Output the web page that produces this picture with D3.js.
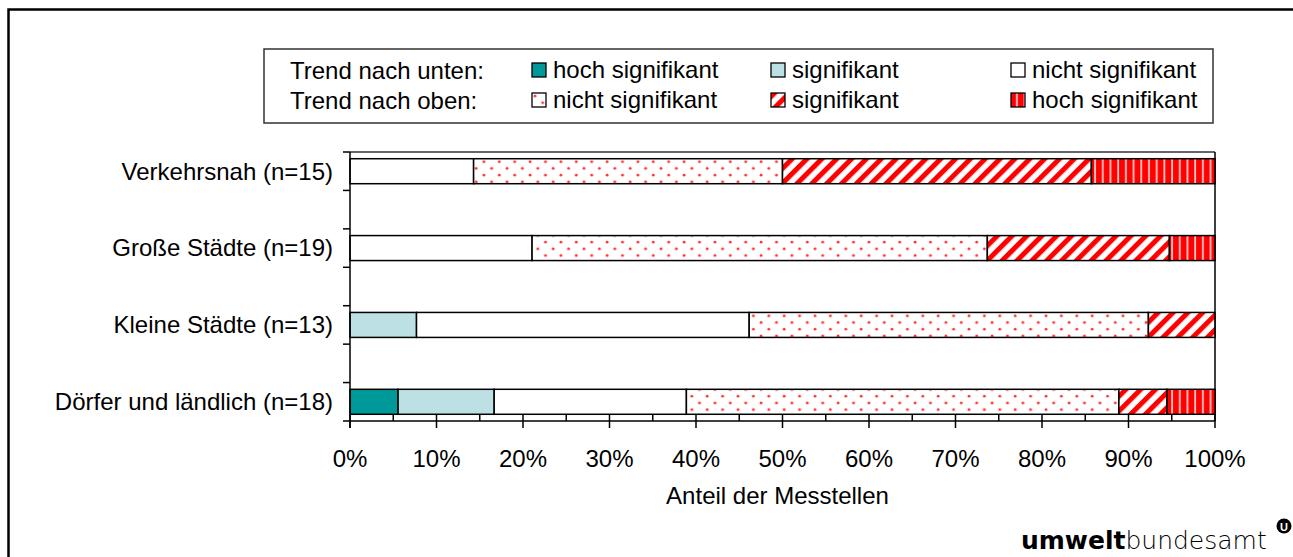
<!DOCTYPE html>
<html>
<head>
<meta charset="utf-8">
<script src="https://cdn.jsdelivr.net/npm/d3@7"></script>
<style>
  body { margin: 0; background: #fff; overflow: hidden; }
  svg { display: block; overflow: hidden; }
  svg text { font-family: "Liberation Sans", Arial, sans-serif; fill: #000; }
</style>
</head>
<body>
<svg id="chart" width="1293" height="557"></svg>
<script>
// categories, top to bottom
var categories = ["Verkehrsnah (n=15)", "Große Städte (n=19)", "Kleine Städte (n=13)", "Dörfer und ländlich (n=18)"];

// share of stations per trend class (%)
var downHigh   = [0, 0, 0, 5.56];
var downSig    = [0, 0, 7.69, 11.11];
var downNot    = [14.29, 21.05, 38.46, 22.22];
var upNot      = [35.71, 52.63, 46.15, 50];
var upSig      = [35.71, 21.05, 7.69, 5.56];
var upHigh     = [14.29, 5.26, 0, 5.56];

var seriesNames = ["down-high", "down-sig", "down-not", "up-not", "up-sig", "up-high"];
var seriesLabels = ["hoch signifikant", "signifikant", "nicht signifikant", "nicht signifikant", "signifikant", "hoch signifikant"];
var xTicks = [0, 10, 20, 30, 40, 50, 60, 70, 80, 90, 100];

var margin = {top: 152, right: 78, bottom: 136, left: 350},
  width = 1293 - margin.left - margin.right,
  height = 557 - margin.top - margin.bottom;

var fontSize = 24;

var svg = d3.select("#chart");

// patterns
var defs = svg.append("defs");
var dots = defs.append("pattern").attr("id", "p-up-not")
  .attr("patternUnits", "userSpaceOnUse").attr("width", 15.4).attr("height", 13.4);
dots.append("rect").attr("width", 15.4).attr("height", 13.4).attr("fill", "#fff");
dots.append("circle").attr("cx", 3).attr("cy", 3).attr("r", 1.4).attr("fill", "#ff3030");
dots.append("circle").attr("cx", 10.7).attr("cy", 9.7).attr("r", 1.4).attr("fill", "#ff3030");

var diag = defs.append("pattern").attr("id", "p-up-sig")
  .attr("patternUnits", "userSpaceOnUse").attr("width", 10.5).attr("height", 10)
  .attr("patternTransform", "rotate(45)");
diag.append("rect").attr("width", 10.5).attr("height", 10).attr("fill", "#fff");
diag.append("rect").attr("width", 5).attr("height", 10).attr("fill", "#ff0000");

var vert = defs.append("pattern").attr("id", "p-up-high")
  .attr("patternUnits", "userSpaceOnUse").attr("width", 7.7).attr("height", 10);
vert.append("rect").attr("width", 7.7).attr("height", 10).attr("fill", "#ff0000");
vert.append("rect").attr("x", 5).attr("width", 1.8).attr("height", 10).attr("fill", "#ffc8c8");

var fills = {
  "down-high": "#009999",
  "down-sig": "#bce0e4",
  "down-not": "#ffffff",
  "up-not": "url(#p-up-not)",
  "up-sig": "url(#p-up-sig)",
  "up-high": "url(#p-up-high)"
};

// outer frame (only top and left edges fall inside the picture)
svg.append("path").attr("d", "M8.5,600V9.5H1400")
  .attr("fill", "none").attr("stroke", "#000").attr("stroke-width", 2.5);

// build the stacked table
var rows = categories.map(function(c, i) {
  return {name: c, "down-high": downHigh[i], "down-sig": downSig[i], "down-not": downNot[i],
          "up-not": upNot[i], "up-sig": upSig[i], "up-high": upHigh[i]};
});
var stacked = d3.stack().keys(seriesNames)(rows);

// 7 slots: categories with empty spacer slots between them
var slots = [];
categories.forEach(function(c, i) {
  slots.push(c);
  if (i < categories.length - 1) slots.push("gap" + i);
});

var x = d3.scaleLinear().domain([0, 100]).range([0, width]);
var y = d3.scaleBand().domain(slots).range([0, height]).paddingInner(0.35).paddingOuter(0.175);
var step = y.step();

var g = svg.append("g").attr("transform", "translate(" + margin.left + "," + margin.top + ")");

// plot border (top and right)
g.append("line").attr("x1", 0).attr("x2", width).attr("y1", 0).attr("y2", 0)
  .attr("stroke", "#333").attr("stroke-width", 1.5);
g.append("line").attr("x1", width).attr("x2", width).attr("y1", 0).attr("y2", height)
  .attr("stroke", "#000").attr("stroke-width", 1.5);

// bars
g.selectAll("g.series").data(stacked).join("g").attr("class", "series")
  .attr("fill", function(d) { return fills[d.key]; })
  .selectAll("rect").data(function(d) { return d.filter(function(p) { return p[1] - p[0] > 0; }); })
  .join("rect")
  .attr("x", function(d) { return x(d[0]); })
  .attr("y", function(d) { return y(d.data.name); })
  .attr("width", function(d) { return x(d[1]) - x(d[0]); })
  .attr("height", y.bandwidth())
  .attr("stroke", "#000").attr("stroke-width", 1.5);

// x axis: major ticks crossing, minor ticks inside
var xAxisG = g.append("g").attr("transform", "translate(0," + height + ")");
xAxisG.append("line").attr("x1", 0).attr("x2", width).attr("stroke", "#000").attr("stroke-width", 1.5);
xAxisG.selectAll("line.minor").data(d3.range(5, 100, 10)).join("line").attr("class", "minor")
  .attr("x1", function(d) { return x(d); }).attr("x2", function(d) { return x(d); })
  .attr("y1", -6).attr("y2", 0).attr("stroke", "#000").attr("stroke-width", 1.5);
xAxisG.selectAll("line.major").data(xTicks).join("line").attr("class", "major")
  .attr("x1", function(d) { return x(d); }).attr("x2", function(d) { return x(d); })
  .attr("y1", -6).attr("y2", 7).attr("stroke", "#000").attr("stroke-width", 1.5);
xAxisG.selectAll("text").data(xTicks).join("text")
  .attr("x", function(d) { return x(d); }).attr("y", 46)
  .attr("text-anchor", "middle").attr("font-size", fontSize)
  .text(function(d) { return d + "%"; });

svg.append("text").attr("x", margin.left + width / 2 - 5).attr("y", margin.top + height + 83)
  .attr("text-anchor", "middle").attr("font-size", fontSize).text("Anteil der Messtellen");

// y axis with a tick at each slot boundary
var yAxisG = g.append("g");
yAxisG.append("line").attr("y1", 0).attr("y2", height + 7).attr("stroke", "#000").attr("stroke-width", 1.5);
var bounds = slots.map(function(s) { return y(s) - y.paddingOuter() * step; }).concat([height]);
yAxisG.selectAll("line.tick").data(bounds).join("line").attr("class", "tick")
  .attr("x1", -7).attr("x2", 0)
  .attr("y1", function(d) { return d; }).attr("y2", function(d) { return d; })
  .attr("stroke", "#000").attr("stroke-width", 1.5);
yAxisG.selectAll("text").data(categories).join("text")
  .attr("x", -17).attr("y", function(d) { return y(d) + y.bandwidth() / 2; })
  .attr("dy", "0.35em").attr("text-anchor", "end").attr("font-size", fontSize)
  .text(function(d) { return d; });

// legend
var legend = svg.append("g").attr("transform", "translate(264,49)");
legend.append("rect").attr("width", 949).attr("height", 74)
  .attr("fill", "#fff").attr("stroke", "#333").attr("stroke-width", 1.5);
legend.append("text").attr("x", 26).attr("y", 22).attr("dy", "0.35em").attr("font-size", fontSize).text("Trend nach unten:");
legend.append("text").attr("x", 26).attr("y", 52).attr("dy", "0.35em").attr("font-size", fontSize).text("Trend nach oben:");
var legendCols = [268, 507, 747];
var legendOrder = [0, 1, 2, 3, 4, 5];
var items = legend.selectAll("g.item").data(legendOrder).join("g").attr("class", "item")
  .attr("transform", function(d) {
    return "translate(" + legendCols[d % 3] + "," + (d < 3 ? 14 : 44) + ")";
  });
items.append("rect").attr("width", 14).attr("height", 14)
  .attr("fill", function(d) { return fills[seriesNames[d]]; })
  .attr("stroke", "#000").attr("stroke-width", 1.3);
items.append("text").attr("x", 21).attr("y", 7).attr("dy", "0.35em").attr("font-size", fontSize)
  .text(function(d) { return seriesLabels[d]; });

// logo
var logo = svg.append("text").attr("x", 1021).attr("y", 549)
  .style("font-family", "'DejaVu Sans', sans-serif").attr("font-size", 25);
logo.append("tspan").attr("font-weight", "bold").text("umwelt");
logo.append("tspan").attr("font-weight", 200).text("bundesamt");
svg.append("circle").attr("cx", 1284).attr("cy", 526).attr("r", 7.5).attr("fill", "#000");
svg.append("text").attr("x", 1284).attr("y", 530.5).attr("text-anchor", "middle")
  .attr("font-size", 11).attr("font-weight", "bold").style("fill", "#fff").text("U");
</script>
</body>
</html>
